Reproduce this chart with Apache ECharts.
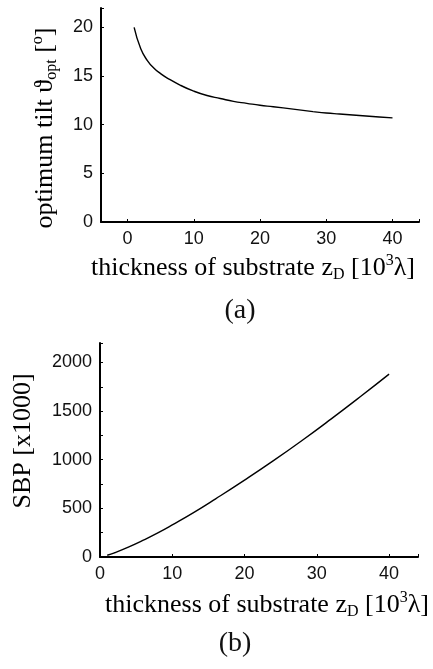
<!DOCTYPE html>
<html>
<head>
<meta charset="utf-8">
<script src="https://cdn.jsdelivr.net/npm/echarts@6/dist/echarts.min.js"></script>
<style>
html, body { margin: 0; padding: 0; background: #fff; }
#chart { width: 433px; height: 669px; }
</style>
</head>
<body>
<div id="chart"></div>
<script>
// (a) optimum tilt vs substrate thickness
var thicknessA = [1, 2, 3, 4, 5, 6, 8, 10, 12, 14, 16, 18, 20, 22, 25, 28, 30, 32, 35, 38, 40]
var tiltA = [20.0, 17.8, 16.6, 15.8, 15.25, 14.8, 14.05, 13.45, 13.0, 12.7, 12.4, 12.2, 12.0, 11.85, 11.6, 11.35, 11.2, 11.1, 10.95, 10.8, 10.7]

// (b) SBP vs substrate thickness
var thicknessB = [1, 2, 4, 6, 8, 10, 13, 16, 20, 24, 28, 32, 36, 40]
var sbpB = [18, 43, 104, 173, 248, 330, 459, 598, 790, 990, 1200, 1420, 1647, 1880]

var xTicks = [0, 10, 20, 30, 40]
var tiltTicks = [0, 5, 10, 15, 20]
var sbpTicks = [0, 500, 1000, 1500, 2000]

function pairs (xs, ys) {
    return xs.map(function (x, i) { return [x, ys[i]] })
}

var labelFont = 'Liberation Sans'
var nameFont = 'Liberation Serif'

function valueAxis (gridIndex, min, max, shown, extra) {
    var ax = {
        type: 'value',
        gridIndex: gridIndex,
        min: min,
        max: max,
        splitLine: { show: false },
        axisLine: { onZero: false, lineStyle: { color: '#000', width: 2 } },
        axisTick: { inside: true, length: 3, lineStyle: { color: '#000', width: 1 } },
        axisLabel: {
            color: '#111',
            fontFamily: labelFont,
            fontSize: 18,
            formatter: function (v) {
                return shown.indexOf(v) >= 0 ? String(v) : ''
            }
        }
    }
    for (var k in extra) ax[k] = extra[k]
    return ax
}

var nameRich = {
    n: { fontFamily: nameFont, fontSize: 26, color: '#111', lineHeight: 30 },
    sub: { fontFamily: nameFont, fontSize: 16, color: '#111', lineHeight: 12, verticalAlign: 'bottom' },
    sup: { fontFamily: nameFont, fontSize: 16, color: '#111', lineHeight: 14, verticalAlign: 'top' }
}
var xName = '{n|thickness of substrate z}{sub|D}{n| [10}{sup|3}{n|λ]}'

var myCharts = echarts.init(document.getElementById('chart'))
var option = {
    animation: false,
    backgroundColor: '#fff',
    grid: [
        { left: 101, top: 8, width: 318, height: 214 },
        { left: 100, top: 343, width: 318, height: 214 }
    ],
    xAxis: [
        valueAxis(0, -4, 44, xTicks, { splitNumber: 5 }),
        valueAxis(1, 0, 44, xTicks, { interval: 10 })
    ],
    yAxis: [
        valueAxis(0, 0, 22, tiltTicks, { interval: 5 }),
        valueAxis(1, 0, 2200, sbpTicks, { interval: 250 })
    ],
    series: [
        {
            type: 'line',
            xAxisIndex: 0,
            yAxisIndex: 0,
            data: pairs(thicknessA, tiltA),
            showSymbol: false,
            smooth: 0.5,
            lineStyle: { color: '#000', width: 1.4 }
        },
        {
            type: 'line',
            xAxisIndex: 1,
            yAxisIndex: 1,
            data: pairs(thicknessB, sbpB),
            showSymbol: false,
            smooth: 0.5,
            lineStyle: { color: '#000', width: 1.4 }
        }
    ],
    graphic: [
        {
            type: 'text', x: 253, y: 268,
            style: { text: xName, rich: nameRich, textAlign: 'center', textVerticalAlign: 'middle' }
        },
        {
            type: 'text', x: 240, y: 311,
            style: { text: '(a)', font: '28px ' + nameFont, fill: '#111', textAlign: 'center', textVerticalAlign: 'middle' }
        },
        {
            type: 'text', x: 45, y: 128, rotation: Math.PI / 2,
            style: {
                text: '{n|optimum tilt ϑ}{sub|opt}{n| [}{sup|o}{n|]}',
                rich: nameRich, textAlign: 'center', textVerticalAlign: 'middle'
            }
        },
        {
            type: 'text', x: 267, y: 605,
            style: { text: xName, rich: nameRich, textAlign: 'center', textVerticalAlign: 'middle' }
        },
        {
            type: 'text', x: 235, y: 644,
            style: { text: '(b)', font: '28px ' + nameFont, fill: '#111', textAlign: 'center', textVerticalAlign: 'middle' }
        },
        {
            type: 'text', x: 23, y: 441, rotation: Math.PI / 2,
            style: { text: '{n|SBP [x1000]}', rich: nameRich, textAlign: 'center', textVerticalAlign: 'middle' }
        }
    ]
}
myCharts.setOption(option)
window.onresize = myCharts.resize
</script>
</body>
</html>
